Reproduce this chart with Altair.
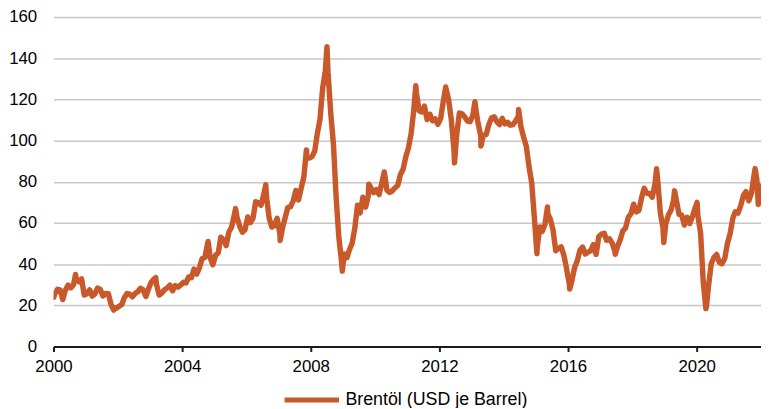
import altair as alt
import pandas as pd

# Brent monthly levels (USD per barrel)
years = list(range(2000, 2022))
b2000 = [25.5, 27.8, 27.5, 22.8, 27.4, 29.8, 28.5, 30.0, 33.0, 31.5, 32.8, 25.0]
b2001 = [25.6, 27.5, 24.5, 25.6, 28.4, 27.7, 24.5, 25.8, 25.7, 20.5, 18.9, 18.6]
b2002 = [19.5, 20.4, 23.7, 25.7, 25.4, 24.1, 25.7, 26.6, 28.3, 27.5, 24.3, 28.0]
b2003 = [31.2, 32.8, 30.3, 25.0, 26.0, 27.6, 28.4, 29.8, 27.1, 29.6, 28.8, 29.8]
b2004 = [31.2, 30.9, 33.8, 33.4, 37.6, 35.2, 38.2, 42.7, 43.2, 49.8, 43.1, 39.7]
b2005 = [44.3, 45.6, 53.1, 51.9, 49.0, 55.6, 57.9, 63.8, 62.7, 58.5, 55.5, 56.7]
b2006 = [62.9, 60.2, 62.1, 70.3, 69.8, 68.6, 73.7, 73.2, 62.5, 58.0, 58.7, 62.3]
b2007 = [54.6, 57.8, 62.4, 67.5, 67.9, 70.6, 75.8, 71.2, 77.0, 82.5, 92.5, 91.5]
b2008 = [92.2, 94.9, 103.3, 110.4, 125.5, 134.0, 133.2, 113.2, 98.0, 72.5, 53.0, 41.6]
b2009 = [44.9, 43.2, 47.0, 50.2, 57.3, 68.6, 64.9, 72.5, 67.7, 73.2, 77.0, 74.7]
b2010 = [76.2, 73.8, 78.8, 84.8, 75.9, 74.8, 75.6, 77.1, 78.2, 83.5, 86.1, 92.0]
b2011 = [96.5, 103.7, 114.6, 123.3, 114.5, 113.9, 116.7, 110.2, 112.8, 109.6, 110.5, 107.9]
b2012 = [110.7, 119.3, 125.5, 119.8, 110.3, 95.2, 102.6, 113.4, 113.0, 111.5, 109.5, 109.2]
b2013 = [112.3, 116.1, 108.5, 102.3, 102.6, 102.9, 107.7, 111.0, 111.6, 109.1, 107.8, 110.8]
b2014 = [108.1, 108.9, 107.5, 107.8, 109.5, 111.8, 106.8, 101.6, 97.1, 87.4, 79.4, 62.3]
b2015 = [47.8, 58.1, 55.9, 59.5, 64.6, 61.7, 56.5, 46.5, 47.6, 48.4, 44.3, 38.0]
b2016 = [30.7, 32.2, 38.2, 41.6, 46.7, 48.3, 44.9, 45.8, 46.6, 49.5, 44.7, 53.3]
b2017 = [54.6, 55.0, 51.6, 52.3, 50.3, 46.4, 48.5, 51.7, 56.2, 57.5, 62.7, 64.4]
b2018 = [69.1, 65.4, 66.0, 72.1, 76.9, 74.4, 74.3, 72.5, 78.9, 81.0, 64.8, 57.4]
b2019 = [59.4, 64.0, 66.1, 71.2, 71.1, 64.2, 63.9, 59.0, 62.8, 59.7, 63.2, 67.3]
b2020 = [63.6, 55.0, 32.0, 18.4, 29.4, 40.3, 43.2, 44.7, 40.9, 40.2, 42.7, 49.9]
b2021 = [54.8, 62.3, 65.4, 64.8, 68.3, 73.4, 75.2, 70.8, 74.5, 83.5, 81.0, 74.2]
monthly = [b2000, b2001, b2002, b2003, b2004, b2005, b2006, b2007, b2008, b2009,
           b2010, b2011, b2012, b2013, b2014, b2015, b2016, b2017, b2018, b2019,
           b2020, b2021]

# Daily highs/lows visible in the chart
extra_dates = ["2000-01-04", "2000-09-07", "2001-11-15", "2003-03-07", "2004-10-22",
               "2005-08-30", "2006-08-08", "2007-01-18", "2007-11-13", "2008-07-03",
               "2008-12-24", "2009-10-21", "2011-04-08", "2012-03-13", "2012-06-21",
               "2013-02-08", "2013-04-17", "2014-06-19", "2015-01-13", "2015-05-13",
               "2015-12-22", "2016-01-20", "2017-06-21", "2018-10-03", "2018-12-24",
               "2019-04-25", "2020-01-06", "2020-04-21", "2021-10-26", "2021-12-01",
               "2021-12-31"]
extra_values = [23.9, 35.0, 17.7, 33.5, 51.0,
                67.0, 78.5, 51.5, 95.5, 145.6,
                36.6, 78.8, 126.6, 126.0, 89.2,
                118.9, 97.4, 115.1, 45.1, 67.8,
                36.1, 27.9, 44.8, 86.3, 50.5,
                75.6, 70.0, 19.3, 86.4, 69.0,
                77.8]

series_name = "Brentöl (USD je Barrel)"
line_color = "#C9582B"

rows = []
for y, vals in zip(years, monthly):
    for m, v in enumerate(vals, start=1):
        rows.append({"date": f"{y}-{m:02d}-15", "price": v})
for d, v in zip(extra_dates, extra_values):
    rows.append({"date": d, "price": v})
df = pd.DataFrame(rows)
df["date"] = pd.to_datetime(df["date"])
df = df.sort_values("date").reset_index(drop=True)
df["date"] = df["date"].dt.strftime("%Y-%m-%dT00:00:00")
df["series"] = series_name

font = "Liberation Sans"
tick_years = [2000, 2004, 2008, 2012, 2016, 2020]

chart = alt.Chart(df).mark_line(
    strokeWidth=5.5, strokeCap="round", strokeJoin="round", clip=True
).encode(
    x=alt.X(
        "date:T",
        title=None,
        scale=alt.Scale(domain=[alt.DateTime(year=2000, month=1, date=1),
                                alt.DateTime(year=2022, month=1, date=1)]),
        axis=alt.Axis(
            values=[alt.DateTime(year=y, month=1, date=1) for y in tick_years],
            format="%Y", grid=False, domainColor="#1a1a1a", domainWidth=2,
            tickColor="#1a1a1a", tickWidth=2, tickSize=5, labelPadding=7,
            labelFlush=False, labelFontSize=17, labelColor="#000000",
            labelFont=font,
        ),
    ),
    y=alt.Y(
        "price:Q",
        title=None,
        scale=alt.Scale(domain=[0, 160], nice=False),
        axis=alt.Axis(
            values=list(range(0, 161, 20)), domain=False, ticks=False,
            grid=True, gridColor="#c8c8c8", gridWidth=1.5, labelPadding=17,
            labelFontSize=17, labelColor="#000000", labelFont=font,
        ),
    ),
    color=alt.Color(
        "series:N",
        scale=alt.Scale(domain=[series_name], range=[line_color]),
        legend=alt.Legend(
            title=None, orient="none", legendX=231, legendY=357,
            direction="horizontal", symbolType="stroke", symbolSize=3025,
            symbolStrokeWidth=5, labelFontSize=18, labelFont=font,
            labelColor="#000000", labelOffset=4, labelLimit=0, padding=0,
        ),
    ),
).properties(
    width=715, height=333,
    autosize=alt.AutoSizeParams(type="none"),
    padding={"left": 46, "top": 7, "right": 0, "bottom": 60},
).configure_view(stroke=None)

chart.save("out.html", embed_options={"renderer": "svg", "actions": False})
